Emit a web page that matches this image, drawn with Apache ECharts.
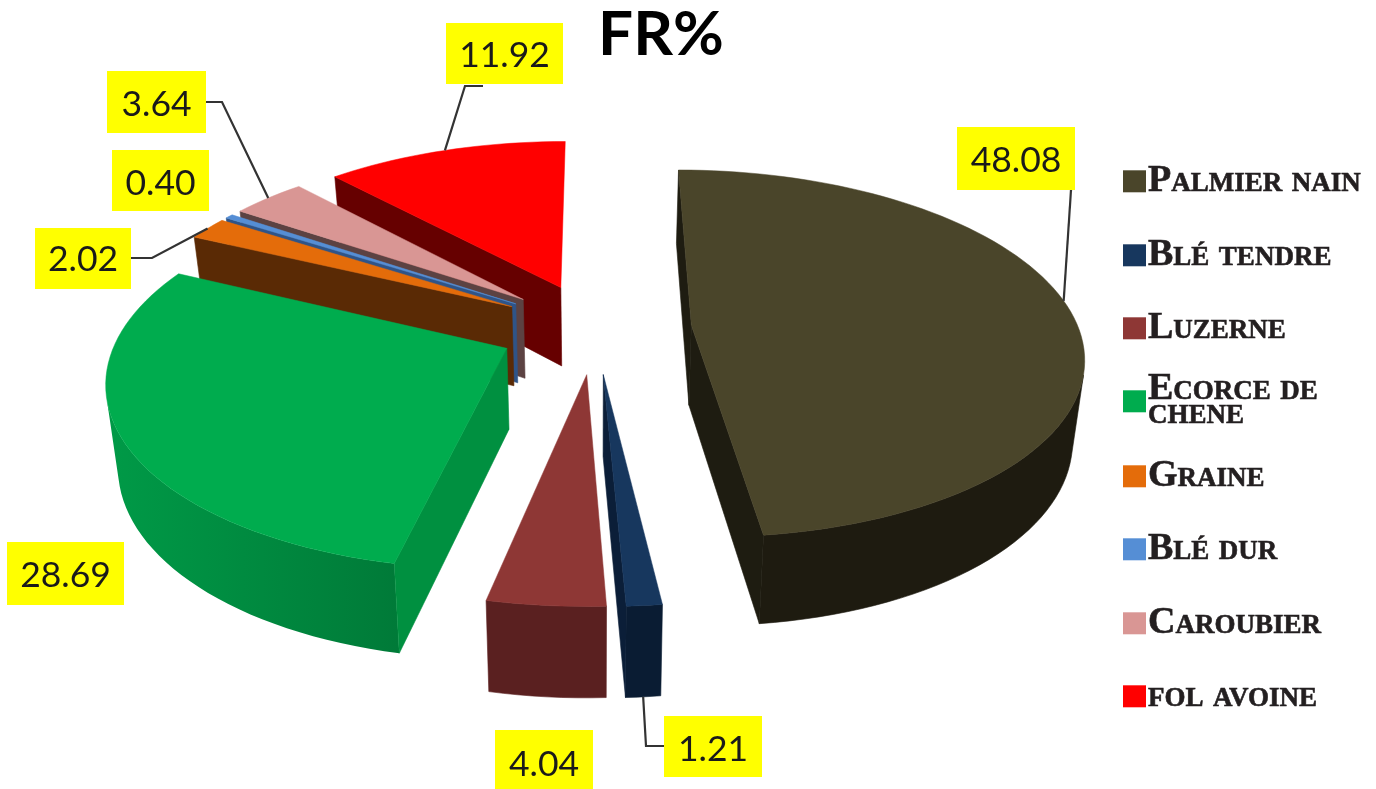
<!DOCTYPE html>
<html>
<head>
<meta charset="utf-8">
<style>html,body{margin:0;padding:0;background:#fff}#c{width:1376px;height:789px}</style>
<script src="https://cdn.jsdelivr.net/npm/echarts@6/dist/echarts.min.js"></script>
</head>
<body>
<div id="c"></div>
<script>
// ---- data ----
const categories = ['Palmier nain','Blé tendre','Luzerne','Ecorce de chene','Graine','Blé dur','Caroubier','fol avoine'];
const values = [48.08,1.21,4.04,28.69,2.02,0.40,3.64,11.92];
// ---- style ----
const topColors  = ['#4A452A','#17375E','#8E3735','#00AC4E','#E46C0A','#558ED5','#D99694','#FF0000'];
const radialWall = ['#1E1C11','#0B1E38','#561F1F','#009040','#5A2A05','#2F5488','#5C4242','#660000'];
const outerNear  = ['#1E1B10','#0A1C33','#5A2020','#007A38','#5A2A05','#2F5488','#5C4242','#660000'];
const outerSide  = ['#1E1B10','#0A1C33','#5A2020','#009A47','#5A2A05','#2F5488','#5C4242','#660000'];
const sliceZ     = [10,9,8,7,6,5,4,3];
// ---- 3D pie projection ----
const CX=595, CY=328, RX=387, RY=180, PERSP=0.154, DEPTH=80, EXPLODE=0.25;
function proj(X,Z,bottom){
  const s=1/(1+PERSP*Z);
  let x=CX+X*RX*s, y=CY-Z*RY*s;
  if(bottom){ y+=DEPTH*(1+0.6*(s-1)); x=CX+(x-CX)*0.975; }
  return [x,y];
}
const total=values.reduce((a,b)=>a+b,0);
const starts=[]; { let acc=0; values.forEach(v=>{starts.push(acc/total*360); acc+=v;}); }
const rad=d=>d*Math.PI/180;
function sliceGeom(i){
  const a0=starts[i], a1=a0+values[i]/total*360, mid=(a0+a1)/2;
  const ex=EXPLODE*Math.sin(rad(mid)), ez=EXPLODE*Math.cos(rad(mid));
  const rim=(deg,b)=>proj(ex+Math.sin(rad(deg)),ez+Math.cos(rad(deg)),b);
  const apex=b=>proj(ex,ez,b);
  return {a0,a1,mid,rim,apex};
}
function area(p){let t=0;for(let k=0;k<p.length;k++){const q=p[(k+1)%p.length];t+=p[k][0]*q[1]-q[0]*p[k][1];}return t;}
function poly(points,fill,z2){
  const stroke=typeof fill==='string'?fill:null;
  return {type:'polygon',z2,shape:{points},style:{fill,stroke,lineWidth:stroke?0.6:0}};
}
const MIN_WALL=1500;
function renderSlice(i){
  const g=sliceGeom(i), kids=[];
  const N=Math.max(2,Math.ceil((g.a1-g.a0)/2));
  const topPts=[g.apex(false)], upper=[], lower=[];
  for(let k=0;k<=N;k++){
    const d=g.a0+(g.a1-g.a0)*k/N;
    topPts.push(g.rim(d,false));
    if(k<N){
      const d2=g.a0+(g.a1-g.a0)*(k+1)/N;
      const q=[g.rim(d,false),g.rim(d,true),g.rim(d2,true),g.rim(d2,false)];
      if(area(q)>0){
        if(!upper.length){upper.push(q[0]);lower.push(q[1]);}
        upper.push(q[3]);lower.push(q[2]);
      }
    }
  }
  if(upper.length){
    const pts=upper.concat(lower.slice().reverse());
    let fill=outerNear[i];
    if(outerNear[i]!==outerSide[i]){
      const xs=pts.map(p=>p[0]);
      fill={type:'linear',x:Math.min(...xs),y:0,x2:Math.max(...xs),y2:0,global:true,
        colorStops:[{offset:0,color:outerSide[i]},{offset:1,color:outerNear[i]}]};
    }
    kids.push(poly(pts,fill,1));
  }
  const w0=[g.apex(false),g.rim(g.a0,false),g.rim(g.a0,true),g.apex(true)];
  const w1=[g.apex(false),g.apex(true),g.rim(g.a1,true),g.rim(g.a1,false)];
  if(area(w0)<-MIN_WALL) kids.push(poly(w0,radialWall[i],2));
  if(area(w1)<-MIN_WALL) kids.push(poly(w1,radialWall[i],2));
  kids.push({type:'polygon',z2:3,shape:{points:topPts},style:{fill:topColors[i],stroke:topColors[i],lineWidth:0.5}});
  return {type:'group',children:kids};
}
// ---- data labels (box layout, px) ----
const labelBoxes=[[957,127,118,63],[664,716,98,61],[495,730,98,59],[7,542,117,63],[35,228,96,61],[112,150,97,61],[107,71,99,62],[446,23,117,61]];
const labelTextDy=[2,3.5,5,2,1.5,3.5,3,2];
const leaders=[
  {from:[1071,190],anchor:82},
  {from:[664,746],elbow:[646,746],bottom:true},
  null,null,
  {from:[131,258],elbow:[152,258]},
  null,
  {from:[206,102],elbow:[222,102]},
  {from:[483,86],elbow:[465,86]}
];
function renderLabels(){
  const kids=[];
  values.forEach((v,i)=>{
    const b=labelBoxes[i];
    const L=leaders[i];
    if(L){
      const g=sliceGeom(i);
      const end=g.rim(L.anchor!=null?L.anchor:g.mid,!!L.bottom);
      const pts=[L.from].concat(L.elbow?[L.elbow]:[]).concat([end]);
      kids.push({type:'polyline',shape:{points:pts},style:{fill:null,stroke:'#333333',lineWidth:2.2}});
    }
    kids.push({type:'rect',shape:{x:b[0],y:b[1],width:b[2],height:b[3]},style:{fill:'#FFFF00'}});
    kids.push({type:'text',style:{text:v.toFixed(2),x:b[0]+b[2]/2,y:b[1]+b[3]/2+labelTextDy[i],align:'center',verticalAlign:'middle',
      fontFamily:'Lato',fontSize:35.5,fill:'#1a1a1a'}});
  });
  return {type:'group',children:kids};
}
// ---- legend rows ----
const legendTop=[162,236,309,370,457,530,604,677];
const legendTextShift=[1,0.5,-2,-6,3.5,2.5,-1.5,-2.5];
const legendLabels=categories.map(c=>c==='Ecorce de chene'?'Ecorce de\nchene':c);
const series=categories.map((name,i)=>({
  type:'custom',name,coordinateSystem:'none',z:sliceZ[i],
  itemStyle:{color:topColors[i]},silent:true,animation:false,
  data:[[values[i]]],
  renderItem:()=>renderSlice(i)
}));
series.push({type:'custom',coordinateSystem:'none',z:20,silent:true,animation:false,data:[[0]],renderItem:()=>renderLabels()});
const legends=categories.map((name,i)=>{
  const s=legendTextShift[i];
  return {
    show:true,data:[name],orient:'vertical',left:1123,top:legendTop[i],padding:0,
    itemWidth:23,itemHeight:22,selectedMode:false,icon:'rect',
    formatter:()=>legendLabels[i],
    textStyle:{fontFamily:'Liberation Serif',fontWeight:'bold',fontStyle:'small-caps',fontSize:38,lineHeight:24,color:'#231F20',
      textBorderColor:'#231F20',textBorderWidth:0.6,
      padding:[Math.max(0,2*s),0,Math.max(0,-2*s),-3]}
  };
});
const chart=echarts.init(document.getElementById('c'),null,{renderer:'canvas'});
chart.setOption({
  animation:false,backgroundColor:'#fff',
  title:{text:'FR%',left:656,textAlign:'center',top:-1,textStyle:{fontFamily:'Lato',fontWeight:'bold',fontSize:62,color:'#000'}},
  legend:legends,
  series
});
</script>
</body>
</html>
